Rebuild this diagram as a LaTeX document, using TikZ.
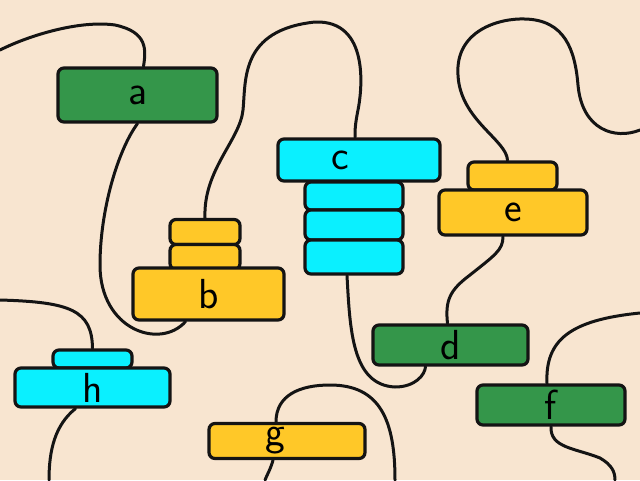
\documentclass[tikz,border=0pt]{standalone}
\usepackage{fontspec}
\definecolor{paper}{RGB}{248,229,208}
\definecolor{leaf}{RGB}{52,150,74}
\definecolor{sun}{RGB}{255,200,40}
\definecolor{sky}{RGB}{10,240,255}
\definecolor{ink}{RGB}{20,20,20}
\newcommand\lblfont{\sffamily\fontsize{42}{42}\selectfont}
\tikzset{
  block/.style={draw=ink, line width=3.2pt, rounded corners=6pt, inner sep=0pt, font=\lblfont},
  leafblock/.style={block, fill=leaf},
  sunblock/.style={block, fill=sun},
  skyblock/.style={block, fill=sky},
  wire/.style={draw=ink, line width=3pt, line cap=round}
}
\begin{document}
\begin{tikzpicture}[x=1pt,y=-1pt]
\fill[paper] (0,0) rectangle (640,480);
\useasboundingbox (0,0) rectangle (640,480);
\coordinate (la) at (0,50);
\coordinate (le) at (640,130);
\coordinate (lf) at (640,313);
\coordinate (lff) at (615,480);
\coordinate (lg) at (395,480);
\coordinate (lgg) at (265,480);
\coordinate (lh) at (0,300);
\coordinate (lhh) at (49,480);
\node[leafblock, minimum width=159pt, minimum height=54pt] (a) at (137.5,95) {a};
\node[sunblock, minimum width=70pt, minimum height=25pt] (b1) at (205,232) {};
\node[sunblock, minimum width=70pt, minimum height=25pt] (b2) at (205,257) {};
\node[sunblock, minimum width=151pt, minimum height=52pt] (b) at (208.5,294) {b};
\foreach \n/\y/\h in {c1/196/28,c2/225/30,c3/257/34}
\node[skyblock, minimum width=98pt, minimum height=\h pt] (\n) at (354,\y) {};
\node[skyblock, minimum width=162pt, minimum height=42pt, label={[font=\lblfont, xshift=-19pt]center:c}] (c) at (359,160) {};
\node[leafblock, minimum width=155pt, minimum height=40pt] (d) at (450.5,345) {d};
\node[sunblock, minimum width=89pt, minimum height=28pt] (e1) at (512.5,176) {};
\node[sunblock, minimum width=148pt, minimum height=45pt] (e) at (513,212.5) {e};
\node[leafblock, minimum width=148pt, minimum height=40pt] (f) at (551,405) {f};
\node[sunblock, minimum width=156pt, minimum height=35pt, label={[font=\lblfont, xshift=-12pt]center:g}] (g) at (287,441) {};
\node[skyblock, minimum width=79pt, minimum height=18pt] (h1) at (92.5,359) {};
\node[skyblock, minimum width=155pt, minimum height=39pt] (h) at (92.5,387.5) {h};
\draw[wire] ([xshift=6pt]a.north) .. controls (146,50) and (148,32) .. (115,25) .. controls (80,20) and (30,35) .. (la);
\draw[wire] (a.south) .. controls (118,150) and (100,210) .. (100,265) .. controls (100,330) and (160,350) .. ([xshift=-23pt]b.south);
\draw[wire] (b1.north) .. controls (203,170) and (240,140) .. (243,110) .. controls (246,80) and (240,30) .. (315,22) .. controls (370,20) and (362,90) .. (358,110) .. controls (355,125) and (355,130) .. ([xshift=-4pt]c.north);
\draw[wire] ([xshift=-7pt]c3.south) .. controls (350,330) and (352,385) .. (395,387) .. controls (415,387) and (425,375) .. ([xshift=-25pt]d.south);
\draw[wire] ([xshift=-3pt]d.north) .. controls (445,300) and (450,290) .. (470,275) .. controls (495,255) and (503,250) .. ([xshift=-10pt]e.south);
\draw[wire] ([xshift=-5pt]e1.north) .. controls (507,140) and (460,120) .. (458,75) .. controls (455,30) and (500,18) .. (525,19) .. controls (565,20) and (575,50) .. (578,85) .. controls (582,130) and (615,140) .. (le);
\draw[wire] ([xshift=-4pt]f.north) .. controls (545,340) and (570,320) .. (lf);
\draw[wire] (f.south) .. controls (550,448) and (575,448) .. (600,458) .. controls (612,465) and (615,472) .. (lff);
\draw[wire] ([xshift=-11pt]g.north) .. controls (276,395) and (300,385) .. (330,385) .. controls (380,385) and (395,420) .. (lg);
\draw[wire] ([xshift=-14pt]g.south) .. controls (271,468) and (267,475) .. (lgg);
\draw[wire] (h1.north) .. controls (92,310) and (70,302) .. (lh);
\draw[wire] ([xshift=-17pt]h.south) .. controls (55,425) and (49,450) .. (lhh);
\end{tikzpicture}
\end{document}
